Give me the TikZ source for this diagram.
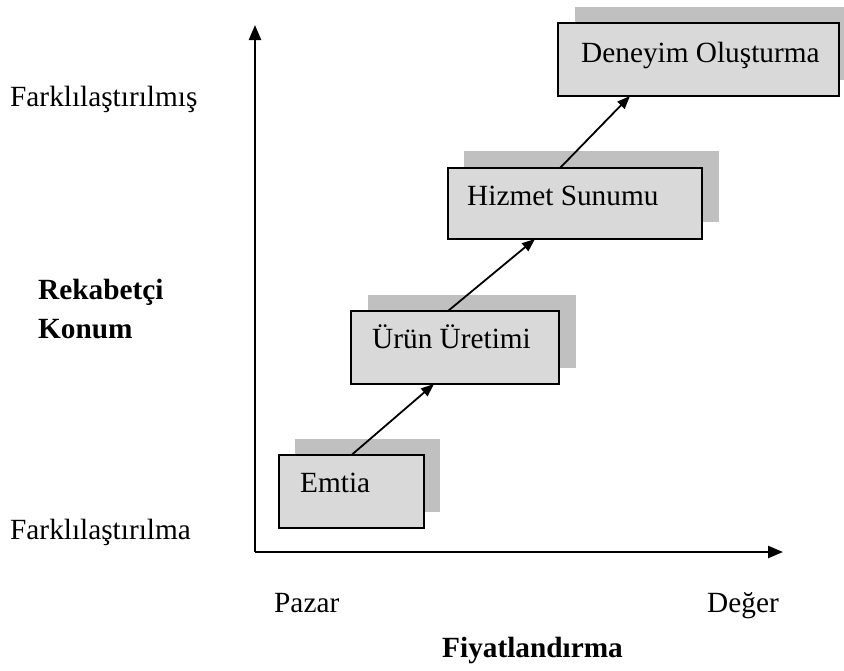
\documentclass[tikz,border=0pt]{standalone}
\usepackage{fontspec}
\setmainfont{Liberation Serif}
\usetikzlibrary{arrows.meta,calc}
\definecolor{boxfill}{RGB}{217,217,217}
\definecolor{shadowgray}{RGB}{192,192,192}
\begin{document}
\begin{tikzpicture}[x=1pt,y=-1pt,
  txt/.style={anchor=base west, inner sep=0pt, font=\fontsize{29.3}{34}\selectfont},
  bold/.style={txt, font=\fontsize{29.3}{34}\selectfont\bfseries},
  stage/.style={draw=black, line width=1.6pt, fill=boxfill, anchor=north west,
    inner sep=0pt, outer sep=0pt},
  shade/.style={fill=shadowgray},
  axis/.style={line width=2.4pt, -{Triangle[length=15pt,width=12pt]}},
  step arrow/.style={line width=1.8pt, -{Triangle[length=13pt,width=10pt]}}]
  % canvas
  \clip (0,0) rectangle (844,670);
  \fill[white] (0,0) rectangle (844,670);

  % axes
  \coordinate (origin) at (255,552);
  \coordinate (ytip) at (255,25);
  \coordinate (xtip) at (783,552);
  \draw[axis] (origin) -- (ytip);
  \draw[axis] (origin) -- (xtip);

  % stage shadows
  \fill[shade] (295,439) rectangle ++(145,73);
  \fill[shade] (368,295) rectangle ++(208,73);
  \fill[shade] (464,151) rectangle ++(255,71);
  \fill[shade] (575,7) rectangle ++(281,73);

  % stage boxes
  \node[stage, minimum width=145pt, minimum height=73pt] (emtia) at (279,455) {};
  \node[stage, minimum width=208pt, minimum height=73pt] (urun) at (351,311) {};
  \node[stage, minimum width=254pt, minimum height=71pt] (hizmet) at (448,168) {};
  \node[stage, minimum width=281pt, minimum height=73pt] (deneyim) at (558,23) {};

  % stage labels
  \node[txt] (emtiaT) at (300,492) {Emtia};
  \node[txt] (urunT) at (372,348) {Ürün Üretimi};
  \node[txt] (hizmetT) at (467,205) {Hizmet Sunumu};
  \node[txt] (deneyimT) at (581,62) {Deneyim Oluşturma};

  % progression arrows
  \draw[step arrow] (emtia.north) -- ($(urun.south west)+(83,0)$);
  \draw[step arrow] ($(urun.north west)+(97,0)$) -- ($(hizmet.south west)+(87,0)$);
  \draw[step arrow] ($(hizmet.north west)+(112,0)$) -- ($(deneyim.south west)+(72,0)$);

  % axis labels
  \node[txt] (high) at (10,106) {Farklılaştırılmış};
  \node[bold] (ylab1) at (38,299) {Rekabetçi};
  \node[bold] (ylab2) at (38,338) {Konum};
  \node[txt] (low) at (10,539) {Farklılaştırılma};
  \node[txt] (pazar) at (274,612) {Pazar};
  \node[txt] (deger) at (707,612) {Değer};
  \node[bold] (xlab) at (442,657) {Fiyatlandırma};
\end{tikzpicture}
\end{document}
